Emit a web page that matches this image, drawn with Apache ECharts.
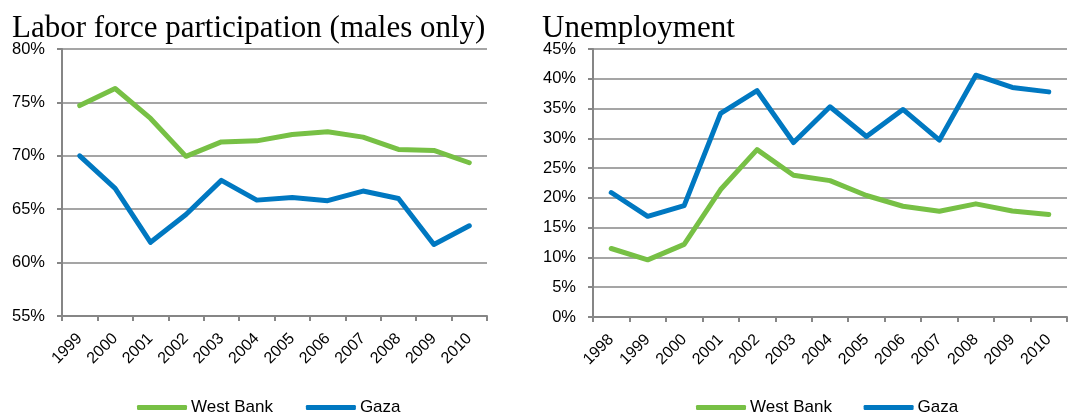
<!DOCTYPE html>
<html>
<head>
<meta charset="utf-8">
<script src="https://cdn.jsdelivr.net/npm/echarts@6/dist/echarts.min.js"></script>
<style>
html,body{margin:0;padding:0;background:#fff;}
#c{width:1078px;height:413px;}
</style>
</head>
<body>
<div id="c"></div>
<script>
// Left chart: Labor force participation (males only)
const lfpYears = ['1999','2000','2001','2002','2003','2004','2005','2006','2007','2008','2009','2010'];
const lfpWestBank = [74.7, 76.3, 73.5, 69.95, 71.3, 71.4, 72.0, 72.25, 71.75, 70.6, 70.5, 69.35];
const lfpGaza = [70.0, 66.95, 61.9, 64.5, 67.7, 65.85, 66.1, 65.8, 66.7, 66.0, 61.7, 63.45];

// Right chart: Unemployment
const unYears = ['1998','1999','2000','2001','2002','2003','2004','2005','2006','2007','2008','2009','2010'];
const unWestBank = [11.5, 9.6, 12.2, 21.4, 28.1, 23.8, 22.9, 20.4, 18.6, 17.75, 19.0, 17.8, 17.2];
const unGaza = [20.9, 16.9, 18.7, 34.2, 38.0, 29.3, 35.3, 30.3, 34.85, 29.7, 40.6, 38.55, 37.8];

const GREEN = '#77C045';
const BLUE = '#0078C1';
const SANS = '"Liberation Sans", Arial, sans-serif';
const SERIF = '"Liberation Serif", "Times New Roman", serif';

const chart = echarts.init(document.getElementById('c'), null, {renderer: 'canvas'});

function xAxis(idx, data) {
  return {
    type: 'category', gridIndex: idx, data: data, boundaryGap: true,
    axisLine: {lineStyle: {color: '#868686', width: 2}},
    axisTick: {show: true, length: 5, lineStyle: {color: '#868686', width: 2}},
    axisLabel: {rotate: 45, margin: 20, interval: 0, fontFamily: SANS, fontSize: 16, color: '#000'},
    splitLine: {show: false}
  };
}
function yAxis(idx, min, max) {
  return {
    type: 'value', gridIndex: idx, min: min, max: max, interval: 5,
    axisLine: {show: true, lineStyle: {color: '#868686', width: 2}},
    axisTick: {show: true, length: 5, lineStyle: {color: '#868686', width: 2}},
    axisLabel: {formatter: '{value}%', margin: 17, fontFamily: SANS, fontSize: 16.5, color: '#000'},
    splitLine: {show: true, lineStyle: {color: '#A5A5A5', width: 2}}
  };
}
function line(name, data, color, xi, yi) {
  return {
    name: name, type: 'line', data: data, xAxisIndex: xi, yAxisIndex: yi,
    symbol: 'none', smooth: false,
    lineStyle: {color: color, width: 5, cap: 'round', join: 'round'},
    itemStyle: {color: color},
    emphasis: {disabled: true}
  };
}

chart.setOption({
  animation: false,
  backgroundColor: '#fff',
  title: [
    {text: 'Labor force participation (males only)', left: 7, top: 8,
     textStyle: {fontFamily: SERIF, fontSize: 31, fontWeight: 'normal', color: '#000'}},
    {text: 'Unemployment', left: 537, top: 8,
     textStyle: {fontFamily: SERIF, fontSize: 31, fontWeight: 'normal', color: '#000'}}
  ],
  legend: [
    {data: ['West Bank', 'Gaza'], left: 132, top: 394, icon: 'roundRect', itemWidth: 50, itemHeight: 5, itemGap: 33,
     textStyle: {fontFamily: SANS, fontSize: 17, color: '#000', padding: [0,0,0,-1]}},
    {data: ['West Bank ', 'Gaza '], left: 691, top: 394, icon: 'roundRect', itemWidth: 50, itemHeight: 5, itemGap: 27,
     textStyle: {fontFamily: SANS, fontSize: 17, color: '#000', padding: [0,0,0,-1]}}
  ],
  grid: [
    {left: 62, right: 591, top: 49, bottom: 97},
    {left: 593, right: 11, top: 49, bottom: 96}
  ],
  xAxis: [xAxis(0, lfpYears), xAxis(1, unYears)],
  yAxis: [yAxis(0, 55, 80), yAxis(1, 0, 45)],
  series: [
    line('West Bank', lfpWestBank, GREEN, 0, 0),
    line('Gaza', lfpGaza, BLUE, 0, 0),
    line('West Bank ', unWestBank, GREEN, 1, 1),
    line('Gaza ', unGaza, BLUE, 1, 1)
  ]
});
</script>
</body>
</html>
